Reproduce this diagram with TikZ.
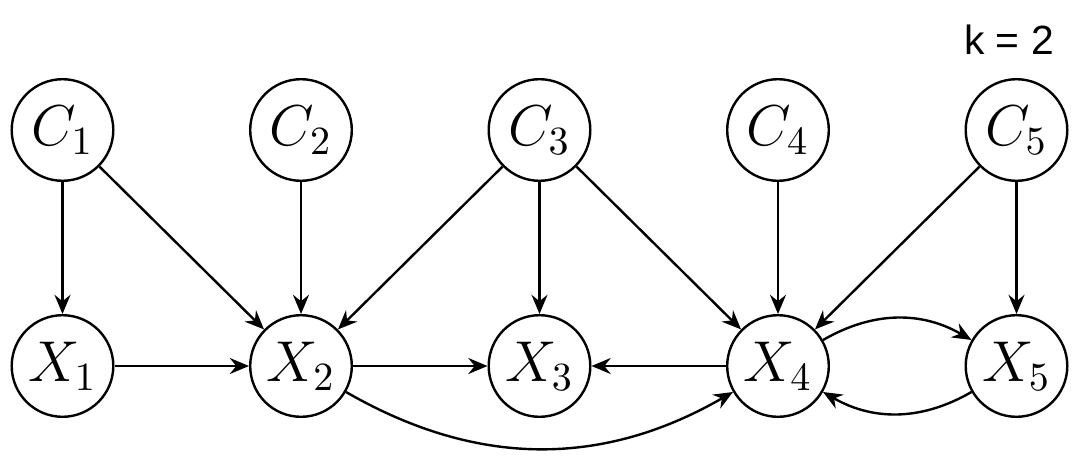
\documentclass[tikz,border=0pt]{standalone}
\usepackage{fontspec}
\newfontfamily\labelfont{Liberation Sans}
\usetikzlibrary{arrows.meta}
\begin{document}
\begin{tikzpicture}[x=0.25pt,y=-0.25pt,
  var/.style={circle,draw,line width=0.6pt,minimum size=25.4pt,inner sep=0pt,font=\Large},
  edge/.style={-{Stealth[length=4.8pt,width=4pt,inset=1.6pt]},line width=0.6pt},
  lbl/.style={font=\labelfont\fontsize{10.2}{12}\selectfont,inner sep=0pt}]
\useasboundingbox (0,0) rectangle (1082,460);
\foreach \i in {1,...,5}{
  \pgfmathsetmacro\xx{62.5+238.5*(\i-1)}
  \node[var] (C\i) at (\xx,130) {$C_{\i}$};
  \node[var] (X\i) at (\xx,366) {$X_{\i}$};
}
\node[lbl] (k) at (1009,40) {k = 2};
\draw[edge] (C1) -- (X1);
\draw[edge] (C1) -- (X2);
\draw[edge] (C2) -- (X2);
\draw[edge] (C3) -- (X2);
\draw[edge] (C3) -- (X3);
\draw[edge] (C3) -- (X4);
\draw[edge] (C4) -- (X4);
\draw[edge] (C5) -- (X4);
\draw[edge] (C5) -- (X5);
\draw[edge] (X1) -- (X2);
\draw[edge] (X2) -- (X3);
\draw[edge] (X4) -- (X3);
\draw[edge] (X2) to[bend right=30] (X4);
\draw[edge] (X4) to[bend left=30] (X5);
\draw[edge] (X5) to[bend left=30] (X4);
\end{tikzpicture}
\end{document}
